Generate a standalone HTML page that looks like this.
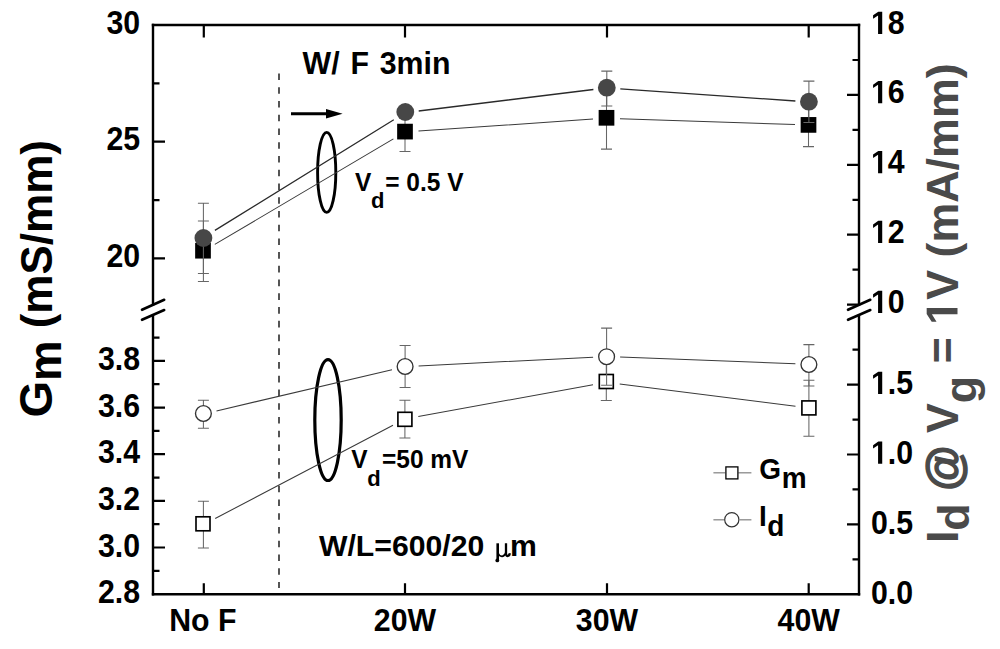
<!DOCTYPE html>
<html><head><meta charset="utf-8">
<style>
html,body{margin:0;padding:0;background:#fff;}
svg{display:block;}
text{font-family:"Liberation Sans",sans-serif;font-weight:bold;}
</style></head>
<body>
<svg width="1000" height="649" viewBox="0 0 1000 649">
<rect width="1000" height="649" fill="#fff"/>
<g stroke="#000" stroke-width="2.4" fill="none" stroke-linecap="square">
  <line x1="153" y1="25" x2="859" y2="25"/>
  <line x1="153" y1="594.2" x2="859" y2="594.2"/>
  <line x1="153" y1="25" x2="153" y2="304.5"/>
  <line x1="153" y1="315.5" x2="153" y2="594.2"/>
  <line x1="859" y1="25" x2="859" y2="304.5"/>
  <line x1="859" y1="315.5" x2="859" y2="594.2"/>
</g>
<g stroke="#000" stroke-width="2.6" stroke-linecap="round">
  <line x1="142" y1="309.8" x2="164.2" y2="299.8"/>
  <line x1="142" y1="319.8" x2="164.2" y2="310"/>
  <line x1="848" y1="309.8" x2="870.3" y2="299.8"/>
  <line x1="848" y1="319.8" x2="870.3" y2="310"/>
</g>
<path stroke="#000" stroke-width="2.2" fill="none" d="M203.8 594.2V583.2 M203.8 25V37.5 M405 594.2V583.2 M405 25V37.5 M607 594.2V583.2 M607 25V37.5 M808.7 594.2V583.2 M808.7 25V37.5 M153 141.7H165 M153 258.4H165 M153 83.3H159.5 M153 200.1H159.5 M153 360.9H165 M153 407.6H165 M153 454.2H165 M153 500.9H165 M153 547.5H165 M153 337.6H159.5 M153 384.2H159.5 M153 430.9H159.5 M153 477.6H159.5 M153 524.2H159.5 M153 570.9H159.5 M859 94.9H847 M859 164.8H847 M859 234.7H847 M859 304.6H847 M859 60.0H852.5 M859 129.9H852.5 M859 199.8H852.5 M859 269.7H852.5 M859 384.7H847 M859 454.5H847 M859 524.4H847 M859 349.7H852.5 M859 419.6H852.5 M859 489.4H852.5 M859 559.3H852.5"/>
<text  transform="translate(140.1,34.1) scale(1,1.07)" font-size="30.3" text-anchor="end" fill="#000" >30</text>
<text  transform="translate(140.1,149.9) scale(1,1.07)" font-size="30.3" text-anchor="end" fill="#000" >25</text>
<text  transform="translate(140.1,266.6) scale(1,1.07)" font-size="30.3" text-anchor="end" fill="#000" >20</text>
<text  transform="translate(140.1,369.9) scale(1,1.07)" font-size="30.3" text-anchor="end" fill="#000" >3.8</text>
<text  transform="translate(140.1,416.6) scale(1,1.07)" font-size="30.3" text-anchor="end" fill="#000" >3.6</text>
<text  transform="translate(140.1,463.2) scale(1,1.07)" font-size="30.3" text-anchor="end" fill="#000" >3.4</text>
<text  transform="translate(140.1,509.9) scale(1,1.07)" font-size="30.3" text-anchor="end" fill="#000" >3.2</text>
<text  transform="translate(140.1,556.5) scale(1,1.07)" font-size="30.3" text-anchor="end" fill="#000" >3.0</text>
<text  transform="translate(140.1,603.2) scale(1,1.07)" font-size="30.3" text-anchor="end" fill="#000" >2.8</text>
<text id="t1" transform="translate(871,34.0) scale(1,1.07)" font-size="30.3" text-anchor="start" fill="#000" >&#8199;8</text>
<text id="t2" transform="translate(871,103.3) scale(1,1.07)" font-size="30.3" text-anchor="start" fill="#000" >&#8199;6</text>
<text id="t3" transform="translate(871,173.2) scale(1,1.07)" font-size="30.3" text-anchor="start" fill="#000" >&#8199;4</text>
<text id="t4" transform="translate(871,243.1) scale(1,1.07)" font-size="30.3" text-anchor="start" fill="#000" >&#8199;2</text>
<text id="t5" transform="translate(871,313.0) scale(1,1.07)" font-size="30.3" text-anchor="start" fill="#000" >&#8199;0</text>
<text id="t6" transform="translate(871,394.0) scale(1,1.07)" font-size="30.3" text-anchor="start" fill="#000" >&#8199;.5</text>
<text id="t7" transform="translate(871,463.8) scale(1,1.07)" font-size="30.3" text-anchor="start" fill="#000" >&#8199;.0</text>
<text  transform="translate(871,533.6) scale(1,1.07)" font-size="30.3" text-anchor="start" fill="#000" >0.5</text>
<text  transform="translate(871,603.5) scale(1,1.07)" font-size="30.3" text-anchor="start" fill="#000" >0.0</text>
<text  transform="translate(202.8,631) scale(1,1.065)" font-size="30.3" text-anchor="middle" fill="#000" >No F</text>
<text  transform="translate(405,631) scale(1,1.065)" font-size="30.3" text-anchor="middle" fill="#000" >20W</text>
<text  transform="translate(607,631) scale(1,1.065)" font-size="30.3" text-anchor="middle" fill="#000" >30W</text>
<text  transform="translate(808.7,631) scale(1,1.065)" font-size="30.3" text-anchor="middle" fill="#000" >40W</text>
<text transform="translate(51.5,417.6) rotate(-90)" font-size="44"><tspan font-size="47">G</tspan><tspan font-size="45.5" dy="9.6">m</tspan><tspan dy="-9.6"> (mS/mm)</tspan></text>
<text id="rt" transform="translate(957.5,543.1) rotate(-90)" font-size="44.8" fill="#4a4a4a">I<tspan dy="11">d</tspan><tspan dy="-11"> </tspan><tspan font-size="46.5" stroke="#4a4a4a" stroke-width="1.4" dy="2">@</tspan><tspan dy="-2"> V</tspan><tspan dy="18.4">g</tspan><tspan dy="-18.4"> = &#8199;V (mA/mm)</tspan></text>
<line x1="279" y1="73.5" x2="279" y2="588" stroke="#383838" stroke-width="1.7" stroke-dasharray="6.6 7.14"/>
<line x1="291" y1="113.8" x2="330" y2="113.8" stroke="#000" stroke-width="3"/>
<path d="M326 108.9 L342.6 113.8 L326 118.6 Z" fill="#000"/>
<text  transform="translate(302.6,74) scale(1,1.05)" font-size="30.3" text-anchor="start" fill="#000" word-spacing="2.4">W/ F 3min</text>
<g transform="translate(0,190.5) scale(1,1.065)"><text font-size="24.5" x="354.93" y="0">V</text><text font-size="24.5" x="385.28" y="0">= 0.5 V</text></g><text font-size="22" x="371.10" y="207.7">d</text>
<g transform="translate(0,467.6) scale(1,1.065)"><text font-size="24.5" x="351.33" y="0">V</text><text font-size="24.5" x="381.98" y="0">=50 mV</text></g><text font-size="22" x="367.20" y="485.6">d</text>
<text  transform="translate(318.970703125,556) scale(1,1.0)" font-size="30.2" text-anchor="start" fill="#000" >W/L=600/20</text>
<text  transform="translate(509.90927734375,556) scale(1,1.0)" font-size="30.2" text-anchor="start" fill="#000" >m</text>
<g fill="none" stroke="#000"><path d="M497.7 543.3V560.2" stroke-width="2.6"/><path d="M497.8 552.8Q499.2 556.6 502.3 556.3Q505 556 506 552.3" stroke-width="1.7"/><path d="M506 543.3V554.2Q506.6 556.6 508.3 555.8Q509.6 555 509.9 553.2" stroke-width="2.3"/></g><circle cx="497.3" cy="560.4" r="1.9" fill="#000"/>
<ellipse cx="326.7" cy="172.4" rx="9.1" ry="40" fill="none" stroke="#000" stroke-width="2.9"/>
<ellipse cx="328" cy="420.1" rx="13.2" ry="60.4" fill="none" stroke="#000" stroke-width="3.2"/>
<path fill="none" stroke="#2a2a2a" stroke-width="1.3" d="M214.9 230.4L393.8 119.7 M418.7 111.0L593.4 89.5 M620.3 88.8L795.4 101.0"/>
<path fill="none" stroke="#3a3a3a" stroke-width="1.05" d="M214.8 244.4L393.4 138.9 M418.5 131.1L593.0 119.1 M620.0 118.7L795.0 124.6"/>
<path fill="none" stroke="#3a3a3a" stroke-width="1.05" d="M216.5 410.9L392.0 369.7 M418.6 365.9L593.1 357.2 M620.1 357.0L795.4 363.8"/>
<path fill="none" stroke="#3a3a3a" stroke-width="1.05" d="M215.2 518.5L393.0 425.2 M418.3 416.5L593.0 384.7 M619.7 384.0L795.5 406.2"/>
<path stroke="#666" stroke-width="1.05" fill="none" d="M203.4 221V281.5 M197.9 221H208.9 M197.9 281.5H208.9 M405 111.8V151.4 M399.5 151.4H410.5 M606.5 86.5V149.1 M601.0 149.1H612.0 M808.5 103.2V146.6 M803.0 146.6H814.0 M203.4 501.3V548 M197.9 501.3H208.9 M197.9 548H208.9 M404.9 400.3V438 M399.4 400.3H410.4 M399.4 438H410.4 M606.3 362.5V400.5 M600.8 400.5H611.8 M808.9 380.3V436.2 M803.4 380.3H814.4 M803.4 436.2H814.4"/>
<rect x="195.15" y="242.85" width="15.7" height="15.7" fill="#000"/>
<rect x="397.15" y="123.75" width="15.7" height="15.7" fill="#000"/>
<rect x="598.65" y="109.95" width="15.7" height="15.7" fill="#000"/>
<rect x="800.65" y="117.05" width="15.7" height="15.7" fill="#000"/>
<rect x="196.00" y="516.80" width="14" height="14" fill="#fff" stroke="#000" stroke-width="1.65"/>
<rect x="397.90" y="412.30" width="14" height="14" fill="#fff" stroke="#000" stroke-width="1.65"/>
<rect x="599.30" y="374.50" width="14" height="14" fill="#fff" stroke="#000" stroke-width="1.65"/>
<rect x="801.90" y="400.90" width="14" height="14" fill="#fff" stroke="#000" stroke-width="1.65"/>
<path stroke="#666" stroke-width="1.05" fill="none" d="M203.4 203.2V273.4 M197.9 203.2H208.9 M197.9 273.4H208.9 M606.8 71.1V105.9 M601.3 71.1H612.3 M601.3 105.9H612.3 M808.9 81.1V122.4 M803.4 81.1H814.4 M803.4 122.4H814.4 M203.4 400.2V428.2 M197.9 400.2H208.9 M197.9 428.2H208.9 M405.1 345.5V387.5 M399.6 345.5H410.6 M399.6 387.5H410.6 M606.6 328.1V385.3 M601.1 328.1H612.1 M601.1 385.3H612.1 M808.9 344.6V385.9 M803.4 344.6H814.4 M803.4 385.9H814.4"/>
<circle cx="203.4" cy="238" r="8.9" fill="#474747"/>
<circle cx="405.3" cy="112" r="8.9" fill="#474747"/>
<circle cx="606.8" cy="87.7" r="8.9" fill="#474747"/>
<circle cx="808.9" cy="101.7" r="8.9" fill="#474747"/>
<circle cx="203.4" cy="413.5" r="7.9" fill="#fff" stroke="#333" stroke-width="1.35"/>
<circle cx="405.1" cy="366.5" r="7.9" fill="#fff" stroke="#333" stroke-width="1.35"/>
<circle cx="606.6" cy="356.7" r="7.9" fill="#fff" stroke="#333" stroke-width="1.35"/>
<circle cx="808.9" cy="364.5" r="7.9" fill="#fff" stroke="#333" stroke-width="1.35"/>
<g stroke="#8a8a8a" stroke-width="1.3"><line x1="713.4" y1="472.8" x2="725.3" y2="472.8"/><line x1="738.3" y1="472.8" x2="751.4" y2="472.8"/><line x1="713.4" y1="519.8" x2="724.4" y2="519.8"/><line x1="739.7" y1="519.8" x2="751.4" y2="519.8"/></g>
<rect x="725.9" y="466.9" width="12" height="12" fill="#fff" stroke="#000" stroke-width="1.3"/>
<circle cx="731.8" cy="519.7" r="7.1" fill="#fff" stroke="#333" stroke-width="1.2"/>
<g transform="translate(0,479.3) scale(1,1.07)"><text font-size="28" x="759.3" y="0">G<tspan dx="0.8" dy="8.3">m</tspan></text></g>
<g transform="translate(0,525.9) scale(1,1.07)"><text font-size="28" x="759" y="0">I<tspan dx="0.5" dy="9.5">d</tspan></text></g>
<g transform="translate(871,34.0) scale(1,1.07)"><path fill="#000" transform="translate(0.00,0.00) scale(0.01479,-0.01479)" d="M478 0V1170L140 959V1180L493 1409H759V0Z"/></g>
<g transform="translate(871,103.3) scale(1,1.07)"><path fill="#000" transform="translate(0.00,0.00) scale(0.01479,-0.01479)" d="M478 0V1170L140 959V1180L493 1409H759V0Z"/></g>
<g transform="translate(871,173.2) scale(1,1.07)"><path fill="#000" transform="translate(0.00,0.00) scale(0.01479,-0.01479)" d="M478 0V1170L140 959V1180L493 1409H759V0Z"/></g>
<g transform="translate(871,243.1) scale(1,1.07)"><path fill="#000" transform="translate(0.00,0.00) scale(0.01479,-0.01479)" d="M478 0V1170L140 959V1180L493 1409H759V0Z"/></g>
<g transform="translate(871,313.0) scale(1,1.07)"><path fill="#000" transform="translate(0.00,0.00) scale(0.01479,-0.01479)" d="M478 0V1170L140 959V1180L493 1409H759V0Z"/></g>
<g transform="translate(871,394.0) scale(1,1.07)"><path fill="#000" transform="translate(0.00,0.00) scale(0.01479,-0.01479)" d="M478 0V1170L140 959V1180L493 1409H759V0Z"/></g>
<g transform="translate(871,463.8) scale(1,1.07)"><path fill="#000" transform="translate(0.00,0.00) scale(0.01479,-0.01479)" d="M478 0V1170L140 959V1180L493 1409H759V0Z"/></g>
<g transform="translate(957.5,543.1) rotate(-90)"><path fill="#4a4a4a" transform="translate(218.38,0.00) scale(0.02187,-0.02187)" d="M478 0V1170L140 959V1180L493 1409H759V0Z"/></g>
</svg>
</body></html>
